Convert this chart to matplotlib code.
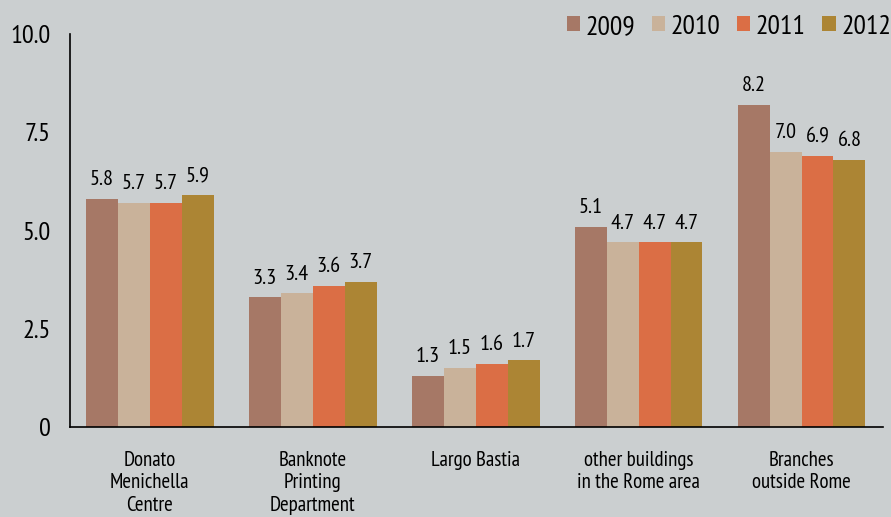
import numpy as np
import matplotlib.pyplot as plt

# data
categories = ["Donato\nMenichella\nCentre", "Banknote\nPrinting\nDepartment", "Largo Bastia",
              "other buildings\nin the Rome area", "Branches\noutside Rome"]
years = ["2009", "2010", "2011", "2012"]
values = {
    "2009": [5.8, 3.3, 1.3, 5.1, 8.2],
    "2010": [5.7, 3.4, 1.5, 4.7, 7.0],
    "2011": [5.7, 3.6, 1.6, 4.7, 6.9],
    "2012": [5.9, 3.7, 1.7, 4.7, 6.8],
}
colors = ["#a67866", "#c9b29a", "#db6e45", "#ac8534"]
bg = "#cbcfd0"

plt.rcParams['font.family'] = ['PT Sans Narrow', 'DejaVu Sans']

fig = plt.figure(figsize=(8.91, 5.17), dpi=100, facecolor=bg)
ax = fig.add_axes([0.0786, 0.174, 0.9124, 0.760])
ax.set_facecolor(bg)

x = np.arange(len(categories))
w = 0.196
for i, yr in enumerate(years):
    pos = x + (i - 1.5) * w
    bars = ax.bar(pos, values[yr], w, color=colors[i], label=yr)
    for b, v in zip(bars, values[yr]):
        ax.annotate(f"{v:.1f}", (b.get_x() + b.get_width() / 2, v),
                    xytext=(0, 7), textcoords="offset points",
                    ha="center", va="bottom", fontsize=16)

ax.set_xlim(-0.49, 4.50)
ax.set_ylim(0, 10)
ax.set_yticks([0, 2.5, 5, 7.5, 10])
ax.set_yticklabels(["0", "2.5", "5.0", "7.5", "10.0"], fontsize=19)
ax.set_xticks(x)
ax.set_xticklabels(categories, fontsize=15, linespacing=1.25, va="top")
ax.tick_params(axis="both", length=0)
ax.tick_params(axis="y", pad=14)
ax.tick_params(axis="x", pad=17)
for s in ["top", "right"]:
    ax.spines[s].set_visible(False)
ax.spines["left"].set_linewidth(1.2)
ax.spines["bottom"].set_linewidth(1.2)

fig.legend(loc="upper right", bbox_to_anchor=(1.028, 1.02), ncol=4, frameon=False,
           fontsize=20, handlelength=0.47, handleheight=0.47, handletextpad=0.2,
           columnspacing=0.6)

fig.savefig("out.png", dpi=100, facecolor=bg)
